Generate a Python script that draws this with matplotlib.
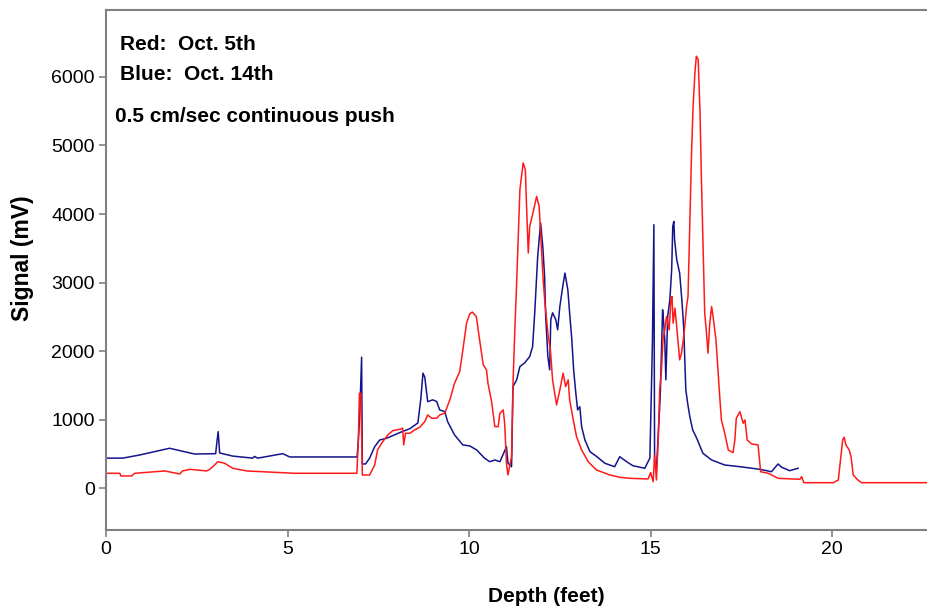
import matplotlib.pyplot as plt

plt.rcParams['font.family'] = ['Liberation Sans', 'DejaVu Sans']

# Oct. 14th (blue)
blue_depth = [0.0, 0.46, 0.93, 1.75, 2.11, 2.44, 3.02, 3.06, 3.09, 3.13, 3.49, 4.04, 4.09, 4.18,
              4.87, 5.06, 6.91, 6.92, 6.96, 6.99, 7.04, 7.06, 7.15, 7.26, 7.40, 7.54, 7.73, 8.09,
              8.37, 8.59, 8.67, 8.73, 8.78, 8.86, 9.00, 9.11, 9.19, 9.33, 9.41, 9.60, 9.83, 10.02,
              10.21, 10.43, 10.57, 10.71, 10.85, 11.03, 11.07, 11.17, 11.21, 11.31, 11.40, 11.53,
              11.67, 11.75, 11.81, 11.89, 11.97, 12.03, 12.08, 12.11, 12.17, 12.22, 12.25, 12.30,
              12.39, 12.44, 12.50, 12.58, 12.64, 12.72, 12.77, 12.83, 12.88, 12.94, 12.99, 13.05,
              13.10, 13.19, 13.33, 13.52, 13.74, 14.01, 14.15, 14.34, 14.51, 14.84, 14.98, 15.05,
              15.09, 15.11, 15.16, 15.25, 15.27, 15.33, 15.36, 15.39, 15.42, 15.47, 15.53, 15.58,
              15.61, 15.64, 15.66, 15.72, 15.80, 15.86, 15.91, 15.97, 16.02, 16.08, 16.16, 16.27,
              16.44, 16.68, 17.04, 17.46, 18.01, 18.33, 18.51, 18.61, 18.83, 19.06]
blue_signal = [440, 440, 486, 584, 540, 500, 505, 700, 826, 515, 470, 440, 465, 440,
               505, 457, 457, 480, 780, 1100, 1912, 355, 355, 440, 607, 705, 730, 812,
               870, 953, 1300, 1679, 1620, 1264, 1290, 1264, 1143, 1118, 972, 778, 632, 618,
               559, 438, 388, 413, 388, 607, 369, 315, 1483, 1581, 1775, 1829,
               1921, 2067, 2578, 3381, 3869, 3527, 3089, 2505, 1921, 1727, 2457, 2559,
               2457, 2311, 2651, 2943, 3139, 2895, 2555, 2165, 1727, 1387, 1143, 1191,
               899, 705, 534, 461, 365, 315, 461, 388, 330, 292, 442, 2117,
               3844, 369, 267, 1191, 1435, 2603, 2413, 2165, 1581, 2505, 2749, 3187,
               3819, 3892, 3625, 3333, 3139, 2749, 2359, 1435, 1241, 1045, 851, 730,
               511, 413, 340, 315, 277, 242, 355, 307, 257, 292]

# Oct. 5th (red)
red_depth = [0.0, 0.38, 0.41, 0.71, 0.79, 1.62, 2.03, 2.11, 2.31, 2.77, 2.86, 2.99, 3.08, 3.27,
             3.49, 3.88, 5.20, 6.91, 6.95, 6.98, 7.02, 7.04, 7.06, 7.26, 7.40, 7.48, 7.59, 7.76,
             7.90, 8.09, 8.17, 8.20, 8.25, 8.37, 8.50, 8.64, 8.78, 8.86, 8.97, 9.11, 9.19, 9.33,
             9.47, 9.60, 9.74, 9.83, 9.93, 10.02, 10.09, 10.20, 10.29, 10.39, 10.48, 10.52, 10.62,
             10.71, 10.80, 10.85, 10.94, 10.98, 11.03, 11.07, 11.17, 11.21, 11.26, 11.31, 11.40,
             11.49, 11.55, 11.58, 11.63, 11.67, 11.76, 11.86, 11.93, 11.99, 12.04, 12.09, 12.18,
             12.24, 12.30, 12.41, 12.50, 12.59, 12.66, 12.73, 12.77, 12.87, 12.96, 13.10, 13.28,
             13.51, 13.88, 14.15, 14.42, 14.93, 15.00, 15.07, 15.11, 15.16, 15.21, 15.25, 15.30,
             15.34, 15.39, 15.44, 15.51, 15.56, 15.59, 15.62, 15.67, 15.71, 15.76, 15.80, 15.85,
             15.90, 15.94, 15.99, 16.03, 16.08, 16.13, 16.17, 16.22, 16.26, 16.31, 16.36, 16.40,
             16.45, 16.49, 16.54, 16.58, 16.63, 16.68, 16.72, 16.80, 16.86, 16.91, 16.95, 17.04,
             17.14, 17.27, 17.32, 17.36, 17.46, 17.55, 17.60, 17.66, 17.78, 17.96, 18.03, 18.24,
             18.51, 19.11, 19.16, 19.22, 20.03, 20.17, 20.23, 20.29, 20.33, 20.38, 20.47, 20.52,
             20.58, 20.71, 20.81, 22.64]
red_signal = [219, 219, 180, 180, 219, 253, 209, 253, 277, 253, 277, 340, 388, 365,
              292, 253, 219, 219, 700, 1387, 1387, 800, 194, 194, 340, 559, 657, 778,
              841, 861, 876, 632, 803, 803, 851, 890, 972, 1070, 1022, 1022, 1070, 1095,
              1289, 1533, 1700, 2019, 2409, 2545, 2570, 2505, 2165, 1800, 1727, 1533, 1264,
              899, 899, 1095, 1143, 949, 365, 194, 461, 1533, 2311, 2993, 4355,
              4745, 4647, 4161, 3431, 3819, 4015, 4257, 4111, 3527, 3041, 2701, 2213,
              2019, 1581, 1216, 1435, 1679, 1483, 1581, 1289, 997, 753, 559, 388,
              267, 194, 161, 146, 136, 230, 96, 486, 121, 705, 1435, 1727,
              2165, 2311, 2505, 2311, 2749, 2797, 2409, 2628, 2409, 2117, 1873, 1971,
              2165, 2359, 2651, 2797, 3869, 4939, 5571, 6059, 6301, 6253, 5498, 4501,
              3431, 2555, 2263, 1971, 2409, 2651, 2505, 2165, 1679, 1289, 997, 807,
              559, 520, 705, 1022, 1118, 949, 997, 705, 647, 632, 242, 219,
              146, 131, 170, 82, 82, 121, 413, 705, 745, 632, 559, 461,
              194, 121, 82, 82]

x_ticks = [0, 5, 10, 15, 20]
y_ticks = [0, 1000, 2000, 3000, 4000, 5000, 6000]

W, H = 928, 609
fig = plt.figure(figsize=(W / 100, H / 100), dpi=100)
ax = fig.add_axes([106 / W, 1 - 530 / H, 1 - 106 / W, 520 / H])

ax.plot(blue_depth, blue_signal, color='#14148c', lw=1.1)
ax.plot(red_depth, red_signal, color='#ff1a1a', lw=1.1)

ax.set_xlim(0, 22.64)
ax.set_ylim(-608, 6975)
ax.set_xticks(x_ticks)
ax.set_yticks(y_ticks)
ax.tick_params(direction='out', length=5, width=1.2, color='#808080',
               labelsize=14, pad=3)

for side in ['left', 'bottom', 'top']:
    ax.spines[side].set_color('#808080')
    ax.spines[side].set_linewidth(1.5)
ax.spines['right'].set_visible(False)

# axis titles placed by pixel centre
fig.text(546 / W, 1 - 596 / H, 'Depth (feet)', fontsize=15, fontweight='bold',
         ha='center', va='center')
fig.text(23 / W, 1 - 258 / H, 'Signal (mV)', fontsize=16.5, fontweight='bold',
         ha='center', va='center', rotation=90)

# notes in the top-left corner
fig.text(120 / W, 1 - 50 / H, 'Red:  Oct. 5th', fontsize=15, fontweight='bold')
fig.text(120 / W, 1 - 80 / H, 'Blue:  Oct. 14th', fontsize=15, fontweight='bold')
fig.text(115 / W, 1 - 122 / H, '0.5 cm/sec continuous push', fontsize=15, fontweight='bold')

fig.savefig('out.png', dpi=100)
